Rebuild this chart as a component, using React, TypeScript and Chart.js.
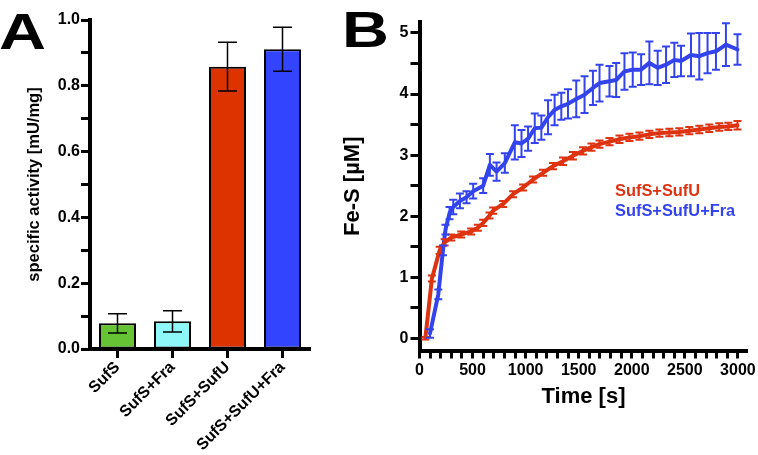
import React, { useEffect, useRef } from "react";
import { Chart, registerables } from "chart.js";

Chart.register(...registerables);

const FONT = "'Liberation Sans', Arial, Helvetica, sans-serif";

// Panel A
const barCategories = ["SufS", "SufS+Fra", "SufS+SufU", "SufS+SufU+Fra"];
const barValues = [0.078, 0.084, 0.858, 0.911];
const barErrors = [0.029, 0.032, 0.074, 0.067];
const barColors = ["#66c333", "#8ef8f8", "#dd3300", "#3344ff"];
const barYTickValues = [0, 0.1, 0.2, 0.3, 0.4, 0.5, 0.6, 0.7, 0.8, 0.9, 1.0];
const barYTickLabels = ["0.0", "", "0.2", "", "0.4", "", "0.6", "", "0.8", "", "1.0"];

// Panel B
const redTimes = [55, 117, 190, 237, 299, 393, 487, 550, 600, 660, 694, 788, 882, 976, 1070, 1164, 1258, 1352, 1446, 1540, 1620, 1696, 1790, 1884, 1978, 2072, 2166, 2260, 2354, 2448, 2542, 2636, 2730, 2824, 2910, 2996];
const redValues = [0.0, 0.98, 1.44, 1.57, 1.65, 1.70, 1.75, 1.81, 1.89, 2.01, 2.09, 2.20, 2.36, 2.47, 2.60, 2.71, 2.82, 2.90, 2.99, 3.07, 3.13, 3.18, 3.22, 3.26, 3.29, 3.31, 3.34, 3.36, 3.37, 3.38, 3.40, 3.42, 3.44, 3.46, 3.47, 3.49];
const redErrors = [0.02, 0.05, 0.06, 0.05, 0.05, 0.05, 0.05, 0.05, 0.05, 0.05, 0.05, 0.05, 0.05, 0.05, 0.05, 0.05, 0.05, 0.06, 0.06, 0.06, 0.06, 0.06, 0.06, 0.06, 0.06, 0.06, 0.06, 0.06, 0.06, 0.06, 0.06, 0.06, 0.06, 0.06, 0.06, 0.07];

const blueTimes = [99, 177, 221, 245, 283, 318, 381, 443, 506, 600, 663, 726, 804, 898, 961, 1023, 1086, 1148, 1211, 1273, 1336, 1399, 1477, 1555, 1634, 1696, 1790, 1853, 1931, 2009, 2088, 2166, 2244, 2323, 2401, 2464, 2558, 2636, 2714, 2793, 2887, 2996];
const blueValues = [0.08, 0.72, 1.44, 1.78, 2.05, 2.15, 2.25, 2.31, 2.41, 2.50, 2.84, 2.73, 2.87, 3.21, 3.19, 3.27, 3.44, 3.45, 3.62, 3.74, 3.80, 3.84, 3.92, 3.99, 4.10, 4.18, 4.21, 4.23, 4.37, 4.40, 4.40, 4.51, 4.43, 4.48, 4.56, 4.54, 4.64, 4.62, 4.67, 4.70, 4.81, 4.73];
const blueErrors = [0.07, 0.08, 0.08, 0.08, 0.10, 0.12, 0.12, 0.10, 0.12, 0.12, 0.18, 0.15, 0.16, 0.28, 0.22, 0.20, 0.24, 0.20, 0.28, 0.25, 0.22, 0.24, 0.30, 0.30, 0.28, 0.30, 0.25, 0.28, 0.30, 0.28, 0.25, 0.35, 0.28, 0.30, 0.28, 0.25, 0.35, 0.38, 0.33, 0.30, 0.35, 0.25];
const redColor = "#dd3311";
const blueColor = "#3344ee";
const seriesNames = ["SufS+SufU", "SufS+SufU+Fra"];

const timeTickValues = [0, 100, 200, 300, 400, 500, 600, 700, 800, 900, 1000, 1100, 1200, 1300, 1400, 1500, 1600, 1700, 1800, 1900, 2000, 2100, 2200, 2300, 2400, 2500, 2600, 2700, 2800, 2900, 3000];
const timeTickLabels = ["0", "500", "1000", "1500", "2000", "2500", "3000"];
const feTickValues = [0, 0.5, 1, 1.5, 2, 2.5, 3, 3.5, 4, 4.5, 5];
const feTickLabels = ["0", "1", "2", "3", "4", "5"];

const barErrorPlugin = {
  id: "barErrors",
  afterDatasetsDraw(chart: any) {
    const ctx = chart.ctx;
    const meta = chart.getDatasetMeta(0);
    const y = chart.scales.y;
    ctx.save();
    ctx.strokeStyle = "#000";
    ctx.lineWidth = 1.5;
    meta.data.forEach((bar: any, i: number) => {
      const x = bar.x;
      const top = y.getPixelForValue(barValues[i] + barErrors[i]);
      const bot = y.getPixelForValue(barValues[i] - barErrors[i]);
      ctx.beginPath();
      ctx.moveTo(x, top);
      ctx.lineTo(x, bot);
      ctx.moveTo(x - 9.5, top);
      ctx.lineTo(x + 9.5, top);
      ctx.moveTo(x - 9.5, bot);
      ctx.lineTo(x + 9.5, bot);
      ctx.stroke();
    });
    ctx.restore();
  },
};

const lineErrorPlugin = {
  id: "lineErrors",
  afterDatasetsDraw(chart: any) {
    const ctx = chart.ctx;
    const xs = chart.scales.x;
    const ys = chart.scales.y;
    const sets = [
      { t: redTimes, v: redValues, e: redErrors, c: redColor },
      { t: blueTimes, v: blueValues, e: blueErrors, c: blueColor },
    ];
    ctx.save();
    ctx.lineWidth = 2;
    sets.forEach((s) => {
      ctx.strokeStyle = s.c;
      s.t.forEach((t, i) => {
        const x = xs.getPixelForValue(t);
        const top = ys.getPixelForValue(s.v[i] + s.e[i]);
        const bot = ys.getPixelForValue(s.v[i] - s.e[i]);
        ctx.beginPath();
        ctx.moveTo(x, top);
        ctx.lineTo(x, bot);
        ctx.moveTo(x - 4, top);
        ctx.lineTo(x + 4, top);
        ctx.moveTo(x - 4, bot);
        ctx.lineTo(x + 4, bot);
        ctx.stroke();
      });
    });
    ctx.restore();
  },
};

// fixed tick sets; kept and restored after Chart.js auto-skipping
function fixedTicks(values: number[]) {
  return {
    afterBuildTicks: (axis: any) => {
      axis.ticks = values.map((v) => ({ value: v }));
      axis._fixedTicks = axis.ticks;
    },
  };
}

export default function App() {
  const aRef = useRef<HTMLCanvasElement>(null);
  const bRef = useRef<HTMLCanvasElement>(null);

  useEffect(() => {
    Chart.defaults.font.family = FONT;
    const tickFont = { family: FONT, size: 16, weight: "bold" as const };

    const chartA = new Chart(aRef.current as HTMLCanvasElement, {
      type: "bar",
      data: {
        labels: barCategories,
        datasets: [
          {
            data: barValues,
            backgroundColor: barColors,
            borderColor: "#000",
            borderWidth: 2,
            borderSkipped: false,
            categoryPercentage: 1,
            barPercentage: 0.673,
          },
        ],
      },
      options: {
        responsive: false,
        animation: false,
        layout: { padding: { left: 0, top: 20, right: 30, bottom: 0 } },
        plugins: { legend: { display: false }, tooltip: { enabled: false } },
        scales: {
          x: {
            offset: true,
            grid: { display: true, drawOnChartArea: false, offset: false, tickLength: 9, tickWidth: 3, tickColor: "#000" },
            border: { display: true, width: 4, color: "#000" },
            ticks: { color: "#000", font: tickFont, minRotation: 45, maxRotation: 45, padding: 0, autoSkip: false },
            afterFit: (s: any) => { s.height = 106; },
          },
          y: {
            min: 0,
            max: 1,
            ...fixedTicks(barYTickValues),
            ticks: {
              color: "#000",
              font: tickFont,
              padding: 1,
              autoSkip: false,
              callback: (v: any, i: number) => barYTickLabels[i],
            },
            grid: { drawOnChartArea: false, tickLength: 9, tickWidth: 3, tickColor: "#000" },
            border: { display: true, width: 4, color: "#000" },
            title: {
              display: true,
              text: "specific activity [mU/mg]",
              color: "#000",
              font: { family: FONT, size: 16.5, weight: "bold" },
              padding: { top: 25, bottom: 0 },
            },
            afterFit: (s: any) => {
              s.width = 90;
              if (s._fixedTicks) { s.ticks = s._fixedTicks; s._labelSizes = null; }
            },
          },
        },
      },
      plugins: [barErrorPlugin],
    } as any);

    const chartB = new Chart(bRef.current as HTMLCanvasElement, {
      type: "line",
      data: {
        datasets: [
          {
            label: seriesNames[0],
            data: redTimes.map((t, i) => ({ x: t, y: redValues[i] })),
            borderColor: redColor,
            borderWidth: 4,
            pointRadius: 0,
            tension: 0,
            borderJoinStyle: "round",
            borderCapStyle: "round",
          },
          {
            label: seriesNames[1],
            data: blueTimes.map((t, i) => ({ x: t, y: blueValues[i] })),
            borderColor: blueColor,
            borderWidth: 4,
            pointRadius: 0,
            tension: 0,
            borderJoinStyle: "round",
            borderCapStyle: "round",
          },
        ],
      },
      options: {
        responsive: false,
        animation: false,
        layout: { padding: { left: 0, top: 22, right: 10, bottom: 0 } },
        plugins: { legend: { display: false }, tooltip: { enabled: false } },
        scales: {
          x: {
            type: "linear",
            min: 0,
            max: 3090,
            ...fixedTicks(timeTickValues),
            ticks: {
              color: "#000",
              font: tickFont,
              maxRotation: 0,
              minRotation: 0,
              autoSkip: false,
              padding: 2,
              callback: (v: any) => {
                const n = Number(v);
                return n % 500 === 0 ? timeTickLabels[n / 500] : "";
              },
            },
            grid: { drawOnChartArea: false, tickLength: 8, tickWidth: 3, tickColor: "#000" },
            border: { display: true, width: 4, color: "#000" },
            title: {
              display: true,
              text: "Time [s]",
              color: "#000",
              font: { family: FONT, size: 22, weight: "bold" },
              padding: { top: 0, bottom: 45 },
            },
            afterFit: (s: any) => {
              s.height = 104.5;
              if (s._fixedTicks) { s.ticks = s._fixedTicks; s._labelSizes = null; }
            },
          },
          y: {
            min: -0.2,
            max: 5.18,
            ...fixedTicks(feTickValues),
            ticks: {
              color: "#000",
              font: tickFont,
              padding: 2,
              autoSkip: false,
              callback: (v: any) => {
                const n = Number(v);
                return Math.abs(n - Math.round(n)) < 1e-6 ? feTickLabels[Math.round(n)] : "";
              },
            },
            grid: { drawOnChartArea: false, tickLength: 9, tickWidth: 3, tickColor: "#000" },
            border: { display: true, width: 4, color: "#000" },
            title: {
              display: true,
              text: "Fe-S [µM]",
              color: "#000",
              font: { family: FONT, size: 22, weight: "bold" },
              padding: { top: 0, bottom: 0 },
            },
            afterFit: (s: any) => {
              s.width = 79.5;
              if (s._fixedTicks) { s.ticks = s._fixedTicks; s._labelSizes = null; }
            },
          },
        },
      },
      plugins: [lineErrorPlugin],
    } as any);

    return () => {
      chartA.destroy();
      chartB.destroy();
    };
  }, []);

  const letterStyle: React.CSSProperties = {
    position: "absolute",
    fontFamily: FONT,
    fontWeight: "bold",
    fontSize: 50,
    lineHeight: "50px",
    color: "#000",
    transform: "scaleX(1.3)",
    transformOrigin: "left top",
  };
  const legendStyle: React.CSSProperties = {
    position: "absolute",
    fontFamily: FONT,
    fontWeight: "bold",
    fontSize: 16.4,
    lineHeight: "16px",
    whiteSpace: "nowrap",
  };

  return (
    <div style={{ position: "absolute", left: 0, top: 0, width: 758, height: 455, background: "#fff", overflow: "hidden" }}>
      <canvas ref={aRef} width={340} height={455} style={{ position: "absolute", left: 0, top: 0 }} />
      <canvas ref={bRef} width={418} height={455} style={{ position: "absolute", left: 340, top: 0 }} />
      <div style={{ ...letterStyle, left: -1, top: 7 }}>A</div>
      <div style={{ ...letterStyle, left: 342, top: 5 }}>B</div>
      <div style={{ ...legendStyle, left: 615, top: 182, color: redColor }}>{seriesNames[0]}</div>
      <div style={{ ...legendStyle, left: 615, top: 202, color: blueColor }}>{seriesNames[1]}</div>
    </div>
  );
}
